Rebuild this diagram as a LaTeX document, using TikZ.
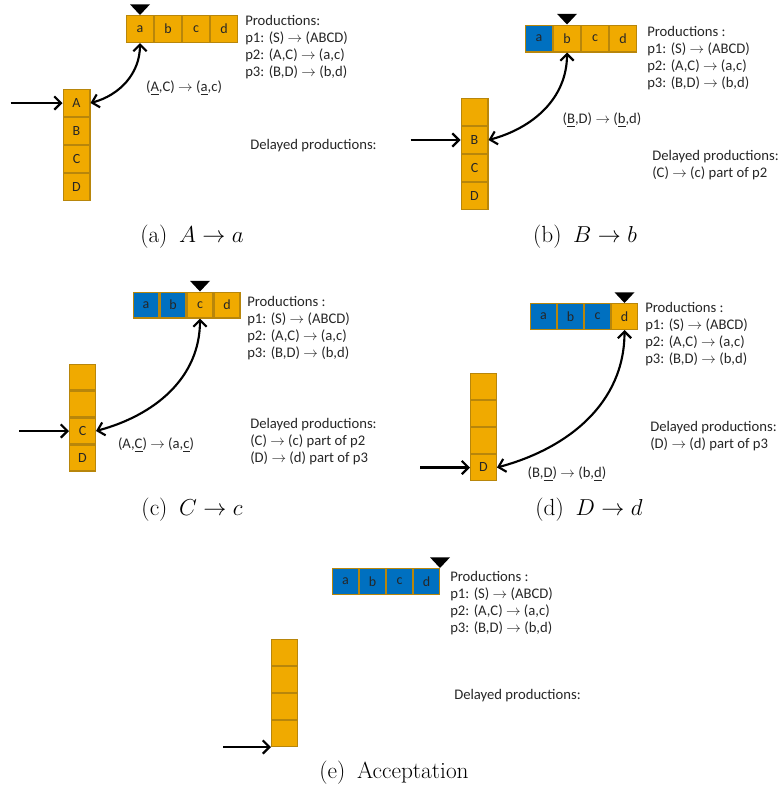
\documentclass[tikz,border=0pt]{standalone}
\usepackage{fontspec}
\newfontfamily\panelfont{Carlito}
\usetikzlibrary{positioning, arrows.meta}
\definecolor{tapeorange}{HTML}{F0AA00}
\definecolor{tapeblue}{HTML}{0070C0}
\definecolor{tapeborder}{HTML}{B8860B}
\definecolor{textgrey}{HTML}{262626}

\begin{document}
\begin{tikzpicture}[
    x=.75pt, y=.75pt,
    node distance = 0pt,
    cell/.style={
        draw=tapeborder, fill=tapeorange, line width=1pt, rectangle,
        inner sep=0pt, minimum size=20pt, text=textgrey,
        font=\panelfont\fontsize{10.5}{12}\selectfont
    },
    done/.style={
        cell, fill=tapeblue
    },
    headmark/.style={
        fill=black
    },
    feed/.style={
        line width=1.6pt, -{Straight Barb[length=5pt,width=10pt]}
    },
    match/.style={
        line width=1.6pt, {Straight Barb[length=5pt,width=10pt]}-{Straight Barb[length=5pt,width=10pt]}
    },
    txt/.style={
        font=\panelfont\fontsize{11}{12.75}\selectfont, align=left, inner sep=0pt, text=textgrey
    },
    subcap/.style={
        font=\fontsize{17.5}{20}\selectfont, inner sep=0pt
    },
]
    \useasboundingbox (0,0) rectangle (784,-800);

    % (a)
    \node[cell] (ta1) at (140,-29) {a};
    \node[cell,right=of ta1] (ta2) {b};
    \node[cell,right=of ta2] (ta3) {c};
    \node[cell,right=of ta3] (ta4) {d};
    \node[cell] (sa1) at (76.5,-103) {A};
    \node[cell,below=of sa1] (sa2) {B};
    \node[cell,below=of sa2] (sa3) {C};
    \node[cell,below=of sa3] (sa4) {D};
    \coordinate[left=39pt of sa1.west] (ina);

    \fill[headmark] (ta1.north) -- ++(-7.5pt,8pt) -- ++(15pt,0pt) -- cycle;
    \draw[feed] (ina) -- (sa1);
    \draw[match] (sa1.east) to[out=15,in=-90] (ta1.south);

    \node[txt] (la) at (184,-88) {(\underline{A},C) $\rightarrow$ (\underline{a},c)};
    \node[txt,anchor=north west] (pa) at (245,-15) {
        Productions:\\
        p1: (S) $\rightarrow$ (ABCD)\\
        p2: (A,C) $\rightarrow$ (a,c)\\
        p3: (B,D) $\rightarrow$ (b,d)
    };
    \node[txt,anchor=west] (da) at (250,-146) {Delayed productions:};
    \node[subcap] (ca) at (192,-237) {(a)\hspace{.5em}$A \rightarrow a$};

    % (b)
    \node[done] (tb1) at (539,-38.5) {a};
    \node[cell,right=of tb1] (tb2) {b};
    \node[cell,right=of tb2] (tb3) {c};
    \node[cell,right=of tb3] (tb4) {d};
    \node[cell] (sb1) at (474.5,-112) {};
    \node[cell,below=of sb1] (sb2) {B};
    \node[cell,below=of sb2] (sb3) {C};
    \node[cell,below=of sb3] (sb4) {D};
    \coordinate[left=37.5pt of sb2.west] (inb);

    \fill[headmark] (tb2.north) -- ++(-7.5pt,8pt) -- ++(15pt,0pt) -- cycle;
    \draw[feed] (inb) -- (sb2);
    \draw[match] (sb2.east) to[out=15,in=-90] (tb2.south);

    \node[txt] (lb) at (602,-120) {(\underline{B},D) $\rightarrow$ (\underline{b},d)};
    \node[txt,anchor=north west] (pb) at (647,-26) {
        Productions :\\
        p1: (S) $\rightarrow$ (ABCD)\\
        p2: (A,C) $\rightarrow$ (a,c)\\
        p3: (B,D) $\rightarrow$ (b,d)
    };
    \node[txt,anchor=north west] (db) at (652,-150) {
        Delayed productions:\\
        (C) $\rightarrow$ (c) part of p2
    };
    \node[subcap] (cb) at (585,-237) {(b)\hspace{.5em}$B \rightarrow b$};

    \begin{scope}[cell/.append style={minimum size=19.25pt}]
    % (c)
    \node[done] (tc1) at (146,-305) {a};
    \node[done,right=of tc1] (tc2) {b};
    \node[cell,right=of tc2] (tc3) {c};
    \node[cell,right=of tc3] (tc4) {d};
    \node[cell] (sc1) at (82.5,-377) {};
    \node[cell,below=of sc1] (sc2) {};
    \node[cell,below=of sc2] (sc3) {C};
    \node[cell,below=of sc3] (sc4) {D};
    \coordinate[left=37.5pt of sc3.west] (inc);

    \fill[headmark] (tc3.north) -- ++(-7.5pt,8pt) -- ++(15pt,0pt) -- cycle;
    \draw[feed] (inc) -- (sc3);
    \draw[match] (sc3.east) to[out=15,in=-90] (tc3.south);

    \node[txt] (lc) at (156,-445) {(A,\underline{C}) $\rightarrow$ (a,\underline{c})};
    \node[txt,anchor=north west] (pc) at (247,-296) {
        Productions :\\
        p1: (S) $\rightarrow$ (ABCD)\\
        p2: (A,C) $\rightarrow$ (a,c)\\
        p3: (B,D) $\rightarrow$ (b,d)
    };
    \node[txt,anchor=north west] (dc) at (250,-418) {
        Delayed productions:\\
        (C) $\rightarrow$ (c) part of p2\\
        (D) $\rightarrow$ (d) part of p3
    };
    \node[subcap] (cc) at (192,-510) {(c)\hspace{.5em}$C \rightarrow c$};

    % (d)
    \node[done] (td1) at (543.5,-316.5) {a};
    \node[done,right=of td1] (td2) {b};
    \node[done,right=of td2] (td3) {c};
    \node[cell,right=of td3] (td4) {d};
    \node[cell] (sd1) at (483.5,-386.5) {};
    \node[cell,below=of sd1] (sd2) {};
    \node[cell,below=of sd2] (sd3) {};
    \node[cell,below=of sd3] (sd4) {D};
    \coordinate[left=37.5pt of sd4.west] (ind);

    \fill[headmark] (td4.north) -- ++(-7.5pt,8pt) -- ++(15pt,0pt) -- cycle;
    \draw[feed] (ind) -- (sd4);
    \draw[match] (sd4.east) to[out=15,in=-90] (td4.south);

    \node[txt] (ld) at (567,-474) {(B,\underline{D}) $\rightarrow$ (b,\underline{d})};
    \node[txt,anchor=north west] (pd) at (645,-302) {
        Productions :\\
        p1: (S) $\rightarrow$ (ABCD)\\
        p2: (A,C) $\rightarrow$ (a,c)\\
        p3: (B,D) $\rightarrow$ (b,d)
    };
    \node[txt,anchor=north west] (dd) at (650,-421) {
        Delayed productions:\\
        (D) $\rightarrow$ (d) part of p3
    };
    \node[subcap] (cd) at (589,-510) {(d)\hspace{.5em}$D \rightarrow d$};

    % (e)
    \node[done] (te1) at (345.5,-581.5) {a};
    \node[done,right=of te1] (te2) {b};
    \node[done,right=of te2] (te3) {c};
    \node[done,right=of te3] (te4) {d};
    \node[cell] (se1) at (284.5,-652.5) {};
    \node[cell,below=of se1] (se2) {};
    \node[cell,below=of se2] (se3) {};
    \node[cell,below=of se3] (se4) {};
    \coordinate[left=36pt of se4.south west] (ine);

    \fill[headmark] (te4.north east) -- ++(-7.5pt,8pt) -- ++(15pt,0pt) -- cycle;
    \draw[feed] (ine) -- (se4.south west);

    \node[txt,anchor=north west] (pe) at (450,-571) {
        Productions :\\
        p1: (S) $\rightarrow$ (ABCD)\\
        p2: (A,C) $\rightarrow$ (a,c)\\
        p3: (B,D) $\rightarrow$ (b,d)
    };
    \node[txt,anchor=west] (de) at (454,-696) {Delayed productions:};
    \node[subcap] (ce) at (394,-773) {(e)\hspace{.5em}Acceptation};
    \end{scope}

\end{tikzpicture}
\end{document}
